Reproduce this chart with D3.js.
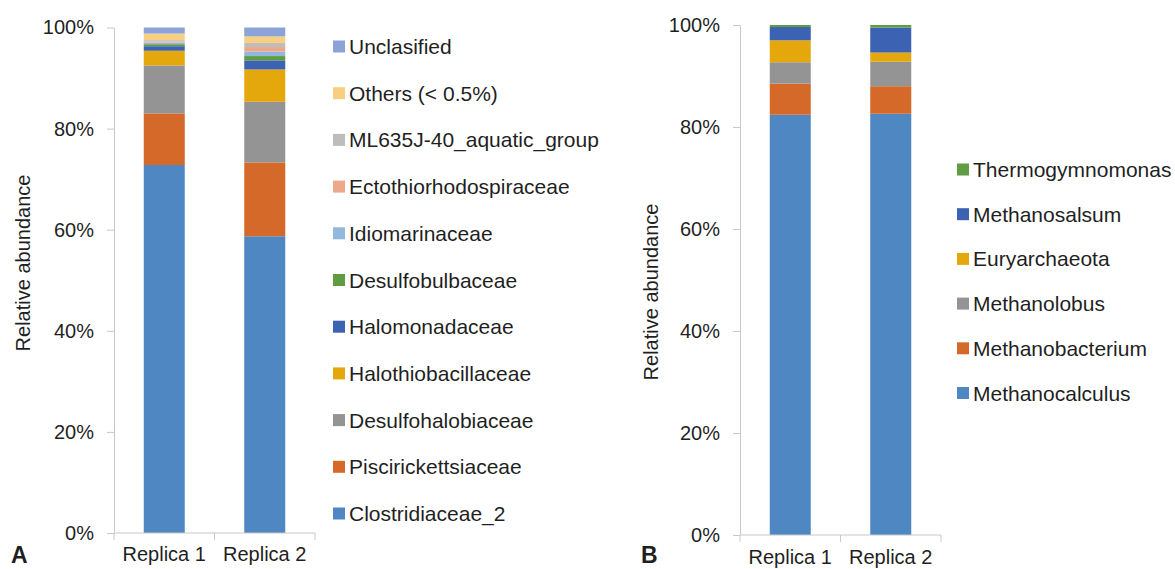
<!DOCTYPE html>
<html>
<head>
<meta charset="utf-8">
<script src="https://cdn.jsdelivr.net/npm/d3@7"></script>
<style>
  body { margin: 0; background: #fff; }
  svg text { font-family: "Liberation Sans", Arial, sans-serif; fill: #1f1f1f; }
</style>
</head>
<body>
<svg id="chart" width="1175" height="569"></svg>
<script>
// samples on the x axis
const samples = ["Replica 1", "Replica 2"];

// panel A: bacterial families, bottom to top of the stack
const familiesA = ["Clostridiaceae_2", "Piscirickettsiaceae", "Desulfohalobiaceae",
  "Halothiobacillaceae", "Halomonadaceae", "Desulfobulbaceae", "Idiomarinaceae",
  "Ectothiorhodospiraceae", "ML635J-40_aquatic_group", "Others (< 0.5%)", "Unclasified"];
const rep1A = [72.8, 10.2, 9.5, 2.9, 0.9, 0.4, 0.3, 0.2, 0.3, 1.3, 1.2];
const rep2A = [58.7, 14.6, 12.0, 6.4, 1.8, 0.85, 0.9, 0.9, 0.8, 1.3, 1.75];
const colorsA = ["#4f87c2", "#d5692a", "#949494", "#e4a80c", "#3b62b3", "#5f9c42",
  "#93b8de", "#eda88c", "#bdbdbd", "#f8cf80", "#8ba3d9"];

// panel B: archaeal genera, bottom to top of the stack
const generaB = ["Methanocalculus", "Methanobacterium", "Methanolobus",
  "Euryarchaeota", "Methanosalsum", "Thermogymnomonas"];
const rep1B = [82.4, 6.1, 4.2, 4.3, 2.6, 0.4];
const rep2B = [82.6, 5.4, 4.8, 1.8, 4.9, 0.5];
const colorsB = ["#4f87c2", "#d5692a", "#949494", "#e4a80c", "#3b62b3", "#5f9c42"];

const yTicks = [0, 20, 40, 60, 80, 100];

const svg = d3.select("#chart");

function drawPanel(opt) {
  const rows = samples.map(function(s, i) {
    const row = { sample: s };
    opt.keys.forEach(function(k, j) { row[k] = opt.values[i][j]; });
    return row;
  });
  const series = d3.stack().keys(opt.keys)(rows);

  const x = d3.scaleBand().domain(samples)
    .range([opt.left, opt.right])
    .paddingInner(0.592).paddingOuter(0.296);
  const y = d3.scaleLinear().domain([0, 100]).range([opt.bottom, opt.top]);
  const color = d3.scaleOrdinal().domain(opt.keys).range(opt.colors);

  const g = svg.append("g");

  // y axis
  const yAxis = g.append("g")
    .attr("transform", "translate(" + opt.left + ",0)")
    .call(d3.axisLeft(y).tickValues(yTicks).tickSize(7).tickSizeOuter(0).tickPadding(13)
      .tickFormat(function(d) { return d + "%"; }));
  yAxis.select(".domain").attr("stroke", "#c8c8c8");
  yAxis.selectAll(".tick line").attr("stroke", "#c8c8c8");
  yAxis.selectAll(".tick text").attr("font-size", 20)
    .style("font-family", "'Liberation Sans', Arial, sans-serif").attr("fill", "#1f1f1f");

  // stacked bars
  g.selectAll("g.layer").data(series).enter().append("g")
    .attr("class", "layer")
    .attr("fill", function(d) { return color(d.key); })
    .selectAll("rect").data(function(d) { return d; }).enter().append("rect")
      .attr("x", function(d) { return x(d.data.sample); })
      .attr("width", x.bandwidth())
      .attr("y", function(d) { return y(d[1]); })
      .attr("height", function(d) { return y(d[0]) - y(d[1]); });

  // x axis with ticks at category boundaries
  g.append("line")
    .attr("x1", opt.left).attr("x2", opt.right)
    .attr("y1", opt.bottom).attr("y2", opt.bottom)
    .attr("stroke", "#c8c8c8");
  const bounds = d3.range(samples.length + 1).map(function(i) { return opt.left + i * x.step(); });
  g.selectAll("line.xtick").data(bounds).enter().append("line")
    .attr("class", "xtick")
    .attr("x1", function(d) { return d; }).attr("x2", function(d) { return d; })
    .attr("y1", opt.bottom).attr("y2", opt.bottom + 7)
    .attr("stroke", "#c8c8c8");
  g.selectAll("text.xlab").data(samples).enter().append("text")
    .attr("class", "xlab")
    .attr("x", function(d) { return x(d) + x.bandwidth() / 2; })
    .attr("y", opt.bottom + opt.labelGap)
    .attr("text-anchor", "middle")
    .attr("font-size", 20)
    .text(function(d) { return d; });

  // y axis title
  g.append("text")
    .attr("transform", "translate(" + opt.titleX + "," + opt.titleY + ") rotate(-90)")
    .attr("text-anchor", "middle")
    .attr("dy", "0.35em")
    .attr("font-size", 20)
    .text("Relative abundance");

  // panel letter
  g.append("text")
    .attr("x", opt.letterX).attr("y", 563)
    .attr("font-size", 23).attr("font-weight", "bold")
    .attr("fill", "#111")
    .text(opt.letter);

  // legend, top entry = top of the stack
  const legendKeys = opt.keys.slice().reverse();
  const leg = g.selectAll("g.leg").data(legendKeys).enter().append("g")
    .attr("class", "leg")
    .attr("transform", function(d, i) {
      return "translate(" + opt.legX + "," + (opt.legY + i * opt.legStep) + ")";
    });
  leg.append("rect")
    .attr("x", 0).attr("y", -6).attr("width", 12).attr("height", 12)
    .attr("fill", function(d) { return color(d); });
  leg.append("text")
    .attr("x", 16).attr("dy", "0.36em")
    .attr("font-size", 21)
    .text(function(d) { return d; });
}

drawPanel({
  keys: familiesA, values: [rep1A, rep2A], colors: colorsA,
  left: 114, right: 315, top: 27.5, bottom: 533, labelGap: 28,
  titleX: 23, titleY: 263, letter: "A", letterX: 11,
  legX: 333, legY: 46.5, legStep: 46.7
});

drawPanel({
  keys: generaB, values: [rep1B, rep2B], colors: colorsB,
  left: 740, right: 941, top: 25, bottom: 535, labelGap: 28.5,
  titleX: 651, titleY: 292, letter: "B", letterX: 641,
  legX: 957, legY: 169.5, legStep: 44.7
});
</script>
</body>
</html>
